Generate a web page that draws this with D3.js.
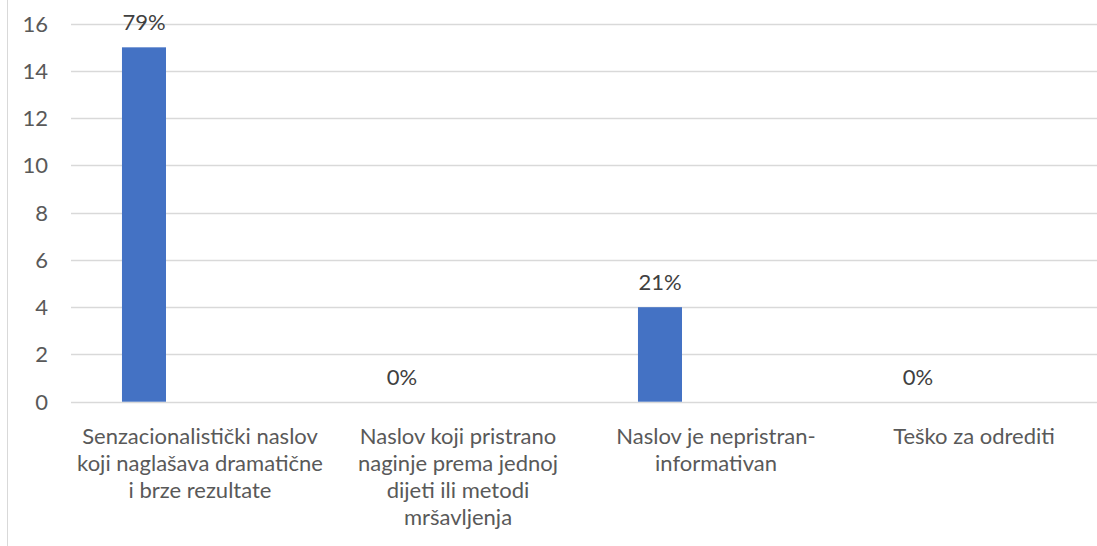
<!DOCTYPE html>
<html>
<head>
<meta charset="utf-8">
<script src="https://cdn.jsdelivr.net/npm/d3@7"></script>
<style>
  body { margin: 0; background: #fff; }
  svg { display: block; font-family: Lato, "Open Sans", sans-serif; }
</style>
</head>
<body>
<script>
// chart data
var categories = [
    "Senzacionalistički naslov\nkoji naglašava dramatične\ni brze rezultate",
    "Naslov koji pristrano\nnaginje prema jednoj\ndijeti ili metodi\nmršavljenja",
    "Naslov je nepristran-\ninformativan",
    "Teško za odrediti"
];
var counts = [15, 0, 4, 0];
var percentLabels = ["79%", "0%", "21%", "0%"];
var series = ["Series1", "Series2"];
var yTicks = [0, 2, 4, 6, 8, 10, 12, 14, 16];

window.onload = drawChart();

function drawChart(){

    var width = 1097,
        height = 546;

    var svg = d3.select("body")
        .append("svg")
        .attr("width", width)
        .attr("height", height);

    //chart border on the left
    svg.append("line")
        .attr("x1", 7.5).attr("x2", 7.5)
        .attr("y1", 0).attr("y2", height)
        .attr("stroke", "#d9d9d9")
        .attr("stroke-width", 1);

    var plotLeft = 71, plotRight = 1103,
        plotTop = 23.7, plotBottom = 401.7;

    var x = d3.scaleBand()
        .domain(categories)
        .range([plotLeft, plotRight]);

    //second series slot is empty, it only shifts the bars left
    var xInner = d3.scaleBand()
        .domain(series)
        .range([0, x.bandwidth()])
        .paddingInner(0.607)
        .paddingOuter(0.455);

    var y = d3.scaleLinear()
        .domain([0, 16])
        .range([plotBottom, plotTop]);

    //gridlines
    svg.selectAll(".grid")
        .data(yTicks)
        .enter()
        .append("line")
        .attr("class", "grid")
        .attr("x1", plotLeft)
        .attr("x2", plotRight)
        .attr("y1", function(d){ return Math.round(y(d)) + 0.5; })
        .attr("y2", function(d){ return Math.round(y(d)) + 0.5; })
        .attr("stroke", "#d9d9d9")
        .attr("stroke-width", 1.4);

    //y axis labels
    svg.selectAll(".ytick")
        .data(yTicks)
        .enter()
        .append("text")
        .attr("class", "ytick")
        .attr("x", 48)
        .attr("y", function(d){ return y(d); })
        .attr("dy", "0.36em")
        .attr("text-anchor", "end")
        .attr("font-size", "22px")
        .attr("fill", "#595959")
        .text(function(d){ return d; });

    //bars
    svg.selectAll(".bar")
        .data(counts)
        .enter()
        .append("rect")
        .attr("class", "bar")
        .attr("x", function(d, i){ return x(categories[i]) + xInner("Series1"); })
        .attr("width", xInner.bandwidth())
        .attr("y", function(d){ return y(d); })
        .attr("height", function(d){ return y(0) - y(d); })
        .attr("fill", "#4472c4");

    //percentage labels
    svg.selectAll(".pct")
        .data(counts)
        .enter()
        .append("text")
        .attr("class", "pct")
        .attr("x", function(d, i){ return x(categories[i]) + xInner("Series1") + xInner.bandwidth() / 2; })
        .attr("y", function(d){ return y(d) - 17; })
        .attr("text-anchor", "middle")
        .attr("font-size", "22px")
        .attr("fill", "#404040")
        .text(function(d, i){ return percentLabels[i]; });

    //category labels
    var catText = svg.selectAll(".cat")
        .data(categories)
        .enter()
        .append("text")
        .attr("class", "cat")
        .attr("text-anchor", "middle")
        .attr("font-size", "22px")
        .attr("fill", "#595959");

    catText.selectAll("tspan")
        .data(function(d){ return d.split("\n").map(function(s){ return {line: s, cat: d}; }); })
        .enter()
        .append("tspan")
        .attr("x", function(d){ return x(d.cat) + x.bandwidth() / 2; })
        .attr("y", function(d, i){ return 444 + i * 27; })
        .text(function(d){ return d.line; });
};
</script>
</body>
</html>
